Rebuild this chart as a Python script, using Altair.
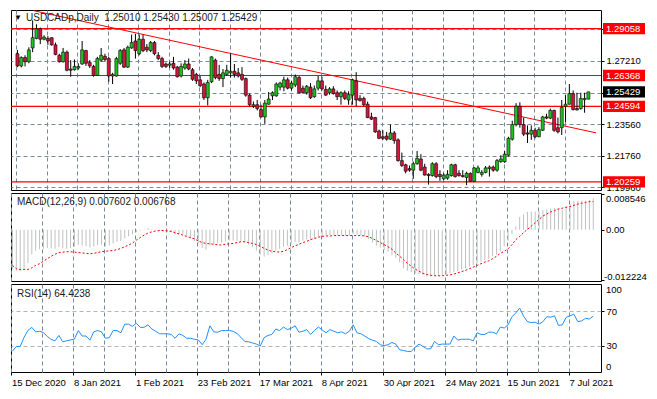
import altair as alt
import pandas as pd

# ---------------- data ----------------
dates = ["15 Dec 2020", "8 Jan 2021", "1 Feb 2021", "23 Feb 2021", "17 Mar 2021",
         "8 Apr 2021", "30 Apr 2021", "24 May 2021", "15 Jun 2021", "7 Jul 2021"]

open_ = [
    1.2762, 1.2692, 1.2740, 1.2716, 1.2795, 1.2850, 1.2905, 1.2845, 1.2850, 1.2854,
    1.2813, 1.2753, 1.2716, 1.2771, 1.2674, 1.2670, 1.2680, 1.2703, 1.2780, 1.2711,
    1.2689, 1.2637, 1.2725, 1.2747, 1.2734, 1.2634, 1.2634, 1.2707, 1.2784, 1.2685,
    1.2795, 1.2835, 1.2762, 1.2845, 1.2799, 1.2780, 1.2826, 1.2753, 1.2734, 1.2703,
    1.2696, 1.2707, 1.2685, 1.2634, 1.2680, 1.2703, 1.2670, 1.2643, 1.2612, 1.2588,
    1.2509, 1.2601, 1.2725, 1.2643, 1.2619, 1.2643, 1.2652, 1.2661, 1.2652, 1.2643,
    1.2619, 1.2524, 1.2461, 1.2469, 1.2441, 1.2399, 1.2472, 1.2520, 1.2520, 1.2570,
    1.2570, 1.2612, 1.2564, 1.2582, 1.2625, 1.2564, 1.2538, 1.2570, 1.2515, 1.2564,
    1.2606, 1.2557, 1.2538, 1.2560, 1.2538, 1.2515, 1.2538, 1.2496, 1.2524, 1.2606,
    1.2505, 1.2505, 1.2472, 1.2399, 1.2395, 1.2318, 1.2285, 1.2289, 1.2271, 1.2307,
    1.2267, 1.2148, 1.2124, 1.2102, 1.2093, 1.2130, 1.2157, 1.2111, 1.2069, 1.2062,
    1.2130, 1.2069, 1.2043, 1.2047, 1.2062, 1.2124, 1.2075, 1.2062, 1.2051, 1.2075,
    1.2029, 1.2080, 1.2069, 1.2080, 1.2102, 1.2111, 1.2093, 1.2142, 1.2142, 1.2179,
    1.2271, 1.2355, 1.2460, 1.2355, 1.2307, 1.2300, 1.2322, 1.2285, 1.2322, 1.2399,
    1.2392, 1.2436, 1.2337, 1.2337, 1.2460, 1.2472, 1.2533, 1.2447, 1.2447, 1.2498,
    1.25010]

high = [
    1.2784, 1.2747, 1.2753, 1.2799, 1.2954, 1.2931, 1.2912, 1.2868, 1.2863, 1.2857,
    1.2826, 1.2762, 1.2795, 1.2780, 1.2725, 1.2729, 1.2707, 1.2835, 1.2784, 1.2725,
    1.2698, 1.2744, 1.2795, 1.2762, 1.2744, 1.2652, 1.2744, 1.2789, 1.2795, 1.2808,
    1.2872, 1.2876, 1.2872, 1.2872, 1.2817, 1.2835, 1.2835, 1.2771, 1.2744, 1.2711,
    1.2716, 1.2744, 1.2692, 1.2707, 1.2725, 1.2734, 1.2680, 1.2652, 1.2634, 1.2597,
    1.2612, 1.2747, 1.2734, 1.2698, 1.2674, 1.2698, 1.2762, 1.2703, 1.2680, 1.2685,
    1.2625, 1.2533, 1.2487, 1.2496, 1.2469, 1.2496, 1.2542, 1.2546, 1.2597, 1.2601,
    1.2630, 1.2625, 1.2606, 1.2643, 1.2634, 1.2579, 1.2582, 1.2593, 1.2579, 1.2634,
    1.2630, 1.2579, 1.2570, 1.2575, 1.2551, 1.2546, 1.2551, 1.2546, 1.2619, 1.2656,
    1.2524, 1.2515, 1.2487, 1.2423, 1.2399, 1.2326, 1.2322, 1.2313, 1.2355, 1.2318,
    1.2276, 1.2194, 1.2130, 1.2120, 1.2142, 1.2203, 1.2185, 1.2130, 1.2075, 1.2139,
    1.2139, 1.2093, 1.2075, 1.2093, 1.2130, 1.2130, 1.2093, 1.2093, 1.2084, 1.2080,
    1.2111, 1.2120, 1.2093, 1.2117, 1.2120, 1.2120, 1.2157, 1.2179, 1.2203, 1.2285,
    1.2377, 1.2478, 1.2483, 1.2395, 1.2350, 1.2350, 1.2337, 1.2340, 1.2405, 1.2417,
    1.2447, 1.2441, 1.2395, 1.2496, 1.2524, 1.2588, 1.2551, 1.2538, 1.2538, 1.2538,
    1.25430]

low = [
    1.2685, 1.2683, 1.2689, 1.2707, 1.2771, 1.2845, 1.2817, 1.2839, 1.2813, 1.2808,
    1.2753, 1.2711, 1.2711, 1.2661, 1.2630, 1.2665, 1.2670, 1.2698, 1.2692, 1.2680,
    1.2630, 1.2634, 1.2716, 1.2716, 1.2601, 1.2588, 1.2630, 1.2698, 1.2680, 1.2680,
    1.2790, 1.2734, 1.2753, 1.2771, 1.2771, 1.2771, 1.2753, 1.2725, 1.2680, 1.2680,
    1.2680, 1.2670, 1.2625, 1.2625, 1.2670, 1.2667, 1.2606, 1.2588, 1.2570, 1.2496,
    1.2465, 1.2593, 1.2615, 1.2606, 1.2570, 1.2634, 1.2625, 1.2625, 1.2625, 1.2606,
    1.2515, 1.2460, 1.2450, 1.2436, 1.2395, 1.2359, 1.2469, 1.2496, 1.2515, 1.2551,
    1.2546, 1.2557, 1.2551, 1.2570, 1.2533, 1.2533, 1.2527, 1.2502, 1.2509, 1.2551,
    1.2551, 1.2520, 1.2527, 1.2527, 1.2496, 1.2469, 1.2496, 1.2469, 1.2469, 1.2460,
    1.2487, 1.2460, 1.2392, 1.2381, 1.2307, 1.2271, 1.2267, 1.2263, 1.2267, 1.2245,
    1.2142, 1.2111, 1.2075, 1.2084, 1.2043, 1.2124, 1.2087, 1.2062, 1.2010, 1.2056,
    1.2047, 1.2032, 1.2038, 1.2038, 1.2056, 1.2051, 1.2056, 1.2051, 1.2007, 1.2026,
    1.2025, 1.2075, 1.2056, 1.2075, 1.2056, 1.2084, 1.2084, 1.2135, 1.2135, 1.2172,
    1.2263, 1.2344, 1.2337, 1.2289, 1.2249, 1.2267, 1.2276, 1.2282, 1.2318, 1.2386,
    1.2386, 1.2313, 1.2304, 1.2295, 1.2368, 1.2469, 1.2436, 1.2436, 1.2441, 1.2423,
    1.25007]

close = [
    1.2692, 1.2740, 1.2716, 1.2784, 1.2854, 1.2905, 1.2845, 1.2857, 1.2835, 1.2813,
    1.2758, 1.2716, 1.2771, 1.2667, 1.2667, 1.2689, 1.2689, 1.2784, 1.2707, 1.2692,
    1.2637, 1.2734, 1.2753, 1.2729, 1.2634, 1.2643, 1.2734, 1.2780, 1.2685, 1.2799,
    1.2826, 1.2780, 1.2845, 1.2780, 1.2784, 1.2826, 1.2762, 1.2734, 1.2689, 1.2689,
    1.2703, 1.2680, 1.2630, 1.2689, 1.2703, 1.2674, 1.2615, 1.2606, 1.2579, 1.2509,
    1.2597, 1.2744, 1.2625, 1.2619, 1.2652, 1.2667, 1.2661, 1.2643, 1.2634, 1.2615,
    1.2524, 1.2469, 1.2469, 1.2447, 1.2399, 1.2478, 1.2502, 1.2538, 1.2588, 1.2593,
    1.2612, 1.2564, 1.2593, 1.2630, 1.2538, 1.2538, 1.2575, 1.2509, 1.2560, 1.2606,
    1.2560, 1.2524, 1.2560, 1.2533, 1.2515, 1.2538, 1.2505, 1.2527, 1.2612, 1.2496,
    1.2493, 1.2469, 1.2395, 1.2386, 1.2313, 1.2276, 1.2276, 1.2271, 1.2307, 1.2263,
    1.2148, 1.2120, 1.2087, 1.2093, 1.2130, 1.2161, 1.2093, 1.2065, 1.2062, 1.2130,
    1.2056, 1.2056, 1.2065, 1.2069, 1.2124, 1.2056, 1.2062, 1.2056, 1.2075, 1.2029,
    1.2106, 1.2106, 1.2080, 1.2106, 1.2111, 1.2093, 1.2148, 1.2157, 1.2185, 1.2276,
    1.2355, 1.2460, 1.2355, 1.2300, 1.2300, 1.2322, 1.2285, 1.2326, 1.2399, 1.2392,
    1.2436, 1.2322, 1.2313, 1.2454, 1.2472, 1.2533, 1.2441, 1.2439, 1.2505, 1.2505,
    1.25429]

macd = [
    -0.0095, -0.0099, -0.0100, -0.0096, -0.0080, -0.0060, -0.0051, -0.0047, -0.0046, -0.0044,
    -0.0045, -0.0046, -0.0042, -0.0045, -0.0046, -0.0044, -0.0041, -0.0037, -0.0038, -0.0040,
    -0.0043, -0.0040, -0.0037, -0.0036, -0.0040, -0.0038, -0.0033, -0.0029, -0.0027, -0.0021,
    -0.0016, -0.0011, -0.0006, -0.0002, 0.0001, 0.0004, 0.0002, -0.0001, -0.0003, -0.0004,
    -0.0004, -0.0006, -0.0011, -0.0011, -0.0011, -0.0015, -0.0021, -0.0027, -0.0033, -0.0044,
    -0.0048, -0.0038, -0.0035, -0.0033, -0.0031, -0.0028, -0.0026, -0.0026, -0.0027, -0.0028,
    -0.0031, -0.0036, -0.0042, -0.0050, -0.0060, -0.0065, -0.0061, -0.0057, -0.0050, -0.0046,
    -0.0041, -0.0039, -0.0033, -0.0030, -0.0030, -0.0026, -0.0024, -0.0024, -0.0021, -0.0017,
    -0.0015, -0.0014, -0.0013, -0.0013, -0.0014, -0.0013, -0.0014, -0.0014, -0.0011, -0.0012,
    -0.0014, -0.0017, -0.0023, -0.0031, -0.0038, -0.0043, -0.0049, -0.0053, -0.0062, -0.0068,
    -0.0079, -0.0093, -0.0099, -0.0102, -0.0106, -0.0107, -0.0109, -0.0113, -0.0113, -0.0111,
    -0.0111, -0.0110, -0.0108, -0.0105, -0.0102, -0.0100, -0.0096, -0.0093, -0.0089, -0.0086,
    -0.0081, -0.0077, -0.0074, -0.0070, -0.0063, -0.0060, -0.0052, -0.0040, -0.0027, -0.0010,
    0.0008, 0.0031, 0.0037, 0.0043, 0.0044, 0.0044, 0.0044, 0.0047, 0.0049, 0.0051,
    0.0052, 0.0052, 0.0049, 0.0057, 0.0062, 0.0070, 0.0070, 0.0070, 0.0070, 0.0072,
    0.007602]

signal = [
    -0.0086, -0.0094, -0.0096, -0.0096, -0.0096, -0.0092, -0.0086, -0.0082, -0.0076, -0.0070,
    -0.0064, -0.0059, -0.0055, -0.0054, -0.0053, -0.0053, -0.0054, -0.0055, -0.0056, -0.0057,
    -0.0058, -0.0057, -0.0055, -0.0053, -0.0052, -0.0051, -0.0050, -0.0048, -0.0045, -0.0041,
    -0.0037, -0.0032, -0.0025, -0.0019, -0.0013, -0.0008, -0.0005, -0.0003, -0.0002, -0.0002,
    -0.0003, -0.0004, -0.0007, -0.0010, -0.0013, -0.0016, -0.0019, -0.0022, -0.0027, -0.0031,
    -0.0033, -0.0034, -0.0035, -0.0036, -0.0037, -0.0035, -0.0034, -0.0033, -0.0031, -0.0029,
    -0.0029, -0.0031, -0.0033, -0.0036, -0.0040, -0.0045, -0.0049, -0.0052, -0.0053, -0.0054,
    -0.0052, -0.0048, -0.0043, -0.0039, -0.0035, -0.0031, -0.0028, -0.0024, -0.0021, -0.0018,
    -0.0016, -0.0015, -0.0015, -0.0014, -0.0014, -0.0014, -0.0014, -0.0014, -0.0014, -0.0014,
    -0.0014, -0.0015, -0.0017, -0.0021, -0.0026, -0.0031, -0.0036, -0.0041, -0.0047, -0.0056,
    -0.0064, -0.0072, -0.0081, -0.0088, -0.0095, -0.0100, -0.0105, -0.0108, -0.0110, -0.0111,
    -0.0111, -0.0111, -0.0110, -0.0109, -0.0107, -0.0104, -0.0101, -0.0098, -0.0094, -0.0090,
    -0.0086, -0.0082, -0.0078, -0.0075, -0.0070, -0.0064, -0.0057, -0.0052, -0.0046, -0.0036,
    -0.0024, -0.0016, -0.0007, 0.0001, 0.0009, 0.0017, 0.0025, 0.0033, 0.0038, 0.0043,
    0.0046, 0.0050, 0.0052, 0.0054, 0.0056, 0.0059, 0.0062, 0.0064, 0.0066, 0.0068,
    0.006768]

rsi = [
    24.0, 29.3, 29.5, 40.0, 48.0, 51.5, 46.3, 47.0, 45.5, 41.0,
    37.5, 36.0, 42.2, 34.8, 36.0, 37.0, 37.8, 47.8, 41.5, 41.5,
    36.7, 46.3, 47.8, 46.3, 38.9, 39.6, 47.8, 47.8, 45.2, 55.2,
    55.2, 52.6, 56.3, 51.5, 51.5, 54.4, 49.6, 47.0, 44.1, 44.1,
    44.1, 43.3, 38.9, 44.1, 42.2, 38.9, 38.9, 37.8, 37.0, 31.5,
    37.8, 53.3, 46.3, 45.9, 47.8, 47.8, 47.8, 47.0, 44.4, 40.0,
    35.2, 34.8, 33.5, 32.2, 30.0, 39.6, 42.2, 43.3, 49.6, 47.8,
    51.9, 48.9, 50.5, 53.3, 45.9, 47.0, 48.9, 43.3, 48.0, 51.9,
    48.5, 45.2, 48.9, 47.0, 45.2, 46.3, 44.1, 47.0, 54.4, 45.2,
    44.1, 41.5, 38.5, 36.7, 35.2, 31.5, 30.4, 31.5, 34.1, 32.2,
    25.6, 24.8, 23.7, 23.7, 28.5, 32.2, 29.6, 26.7, 26.7, 35.2,
    31.5, 32.2, 32.2, 32.2, 41.5, 36.7, 37.8, 37.8, 37.8, 35.9,
    45.2, 43.3, 43.3, 45.9, 45.9, 44.1, 51.9, 50.7, 54.4, 63.7,
    68.1, 73.7, 64.4, 58.1, 57.0, 57.4, 55.2, 58.1, 63.7, 63.3,
    64.8, 53.7, 54.4, 63.0, 64.8, 66.7, 58.1, 58.9, 61.9, 61.1,
    64.4238]

levels = [1.29058, 1.26368, 1.24594, 1.20259]          # horizontal red lines
price_ticks = [1.2903, 1.2721, 1.2539, 1.2356, 1.2176, 1.1996]
hidden_ticks = [1.2903, 1.2539]                       # covered by level labels
trend_i = [4.25, 152.0]                               # trend line anchors (bar index)
trend_p = [1.30093, 1.23075]
macd_ticks = [0.008546, 0.0, -0.012224]
rsi_levels = [70, 30]
rsi_ends = [100, 0]

# ---------------- layout / style ----------------
W = 590
HP, HM, HR = 180, 88, 88
FONT = "Liberation Sans"
GRID = "#778899"
GREEN = "#1ec31e"
CRED = "#d8143a"
LRED = "#ff0000"
BOX = "M-1,-0.27H1V0.27H-1Z"

n = len(close)
df = pd.DataFrame({"i": list(range(n)), "open": open_, "high": high, "low": low,
                   "close": close, "macd": macd, "signal": signal, "rsi": rsi})

xs = alt.Scale(domain=[-0.375, 152.0], nice=False, zero=False)
ys_p = alt.Scale(domain=[1.19791, 1.30131], nice=False, zero=False)
ys_m = alt.Scale(domain=[-0.01237, 0.00887], nice=False, zero=False)
ys_r = alt.Scale(domain=[0, 101.5], nice=False, zero=False)

x_grid = [-0.25 + 8 * k for k in range(19)]
js_dates = "[" + ",".join("'" + d + "'" for d in dates) + "]"
date_expr = f"(datum.value + 0.25) % 16 == 0 ? {js_dates}[(datum.value + 0.25) / 16] : ''"

x_axis_plain = alt.Axis(values=x_grid, grid=True, gridColor=GRID, gridDash=[4, 3],
                        labels=False, ticks=False, domain=False, title=None)
x_axis_dates = alt.Axis(values=x_grid, grid=True, gridColor=GRID, gridDash=[4, 3],
                        labelExpr=date_expr, labelAlign="left", labelBaseline="top",
                        labelPadding=2, labelOverlap=False, labelFlush=False,
                        labelFontSize=9.5,
                        ticks=True, tickSize=3, tickColor="black",
                        tickOpacity={"condition": {"test": "(datum.value + 0.25) % 16 == 0", "value": 1}, "value": 0},
                        domain=False, title=None)

hidden_js = "[" + ",".join(str(v) for v in hidden_ticks) + "]"
price_axis = alt.Axis(orient="right", values=price_ticks, grid=True, gridColor=GRID,
                      gridDash=[4, 3],
                      labelExpr=f"indexof({hidden_js}, datum.value) >= 0 ? '' : format(datum.value, '.5f')",
                      labelPadding=2, labelOverlap=False, labelFlush=False,
                      ticks=True, tickSize=3, tickColor="black", domain=False, title=None)
macd_axis = alt.Axis(orient="right", values=macd_ticks, grid=False, labels=False,
                     ticks=True, tickSize=3, tickColor="black", domain=False, title=None)
rsi_axis = alt.Axis(orient="right", values=rsi_levels, grid=True, gridColor="#b4b4b4",
                    gridDash=[4, 3], labelPadding=2, ticks=True, tickSize=3,
                    tickColor="black", domain=False, title=None)


def fixed_text(txt, x, y, size=10, color="#1a1a1a", align="left"):
    return alt.Chart(pd.DataFrame({"t": [txt]})).mark_text(
        align=align, baseline="middle", fontSize=size, color=color, font=FONT
    ).encode(x=alt.value(x), y=alt.value(y), text="t:N")


# ---------------- price panel ----------------
Xp = alt.X("i:Q", scale=xs, axis=x_axis_plain)
base = alt.Chart(df)
wick = base.mark_rule(color="black", strokeWidth=1).encode(
    x=Xp, y=alt.Y("low:Q", scale=ys_p, axis=price_axis), y2="high:Q")
body = base.mark_bar(size=3, stroke="black", strokeWidth=0.6).encode(
    x=Xp, y=alt.Y("open:Q", scale=ys_p, axis=price_axis), y2="close:Q",
    color=alt.condition("datum.close >= datum.open", alt.value(GREEN), alt.value(CRED)))

lev_df = pd.DataFrame({"level": levels})
hlines = alt.Chart(lev_df).mark_rule(color=LRED, strokeWidth=1.2).encode(
    y=alt.Y("level:Q", scale=ys_p, axis=price_axis))
trend = alt.Chart(pd.DataFrame({"i": trend_i, "p": trend_p})).mark_line(
    color=LRED, strokeWidth=1, clip=True).encode(
    x=Xp, y=alt.Y("p:Q", scale=ys_p, axis=price_axis))

red_box = alt.Chart(lev_df).mark_point(shape=BOX, size=42 * 42, filled=True, opacity=1,
                                       color=LRED, strokeWidth=0).encode(
    x=alt.value(W + 23), y=alt.Y("level:Q", scale=ys_p, axis=price_axis))
red_txt = alt.Chart(lev_df).mark_text(align="left", baseline="middle", color="white",
                                      fontSize=9.5, font=FONT).encode(
    x=alt.value(W + 5), y=alt.Y("level:Q", scale=ys_p, axis=price_axis),
    text=alt.Text("level:Q", format=".5f"))
cur_df = pd.DataFrame({"level": [close[-1]]})
cur_box = alt.Chart(cur_df).mark_point(shape=BOX, size=42 * 42, filled=True, opacity=1,
                                       color="black", strokeWidth=0).encode(
    x=alt.value(W + 23), y=alt.Y("level:Q", scale=ys_p, axis=price_axis))
cur_txt = alt.Chart(cur_df).mark_text(align="left", baseline="middle", color="white",
                                      fontSize=9.5, font=FONT).encode(
    x=alt.value(W + 5), y=alt.Y("level:Q", scale=ys_p, axis=price_axis),
    text=alt.Text("level:Q", format=".5f"))

ptitle = (f"USDCADp,Daily\u00a0 {open_[-1]:.5f} {high[-1]:.5f} "
          f"{low[-1]:.5f} {close[-1]:.5f}")
price = alt.layer(
    hlines, trend, wick, body, red_box, red_txt, cur_box, cur_txt,
    fixed_text("\u25bc", 3, 8, size=8, color="black"),
    fixed_text(ptitle, 15, 8),
).properties(width=W, height=HP)

# ---------------- MACD panel ----------------
hist = alt.Chart(df).mark_rule(color="#c0c0c0", strokeWidth=1).encode(
    x=Xp, y=alt.Y("macd:Q", scale=ys_m, axis=macd_axis), y2=alt.datum(0))
sig = alt.Chart(df).mark_line(color=LRED, strokeWidth=1, strokeDash=[2, 2]).encode(
    x=Xp, y=alt.Y("signal:Q", scale=ys_m, axis=macd_axis))
zero_lab = alt.Chart(pd.DataFrame({"v": [macd_ticks[1]]})).mark_text(
    align="left", baseline="middle", fontSize=9.5, font=FONT, color="black").encode(
    x=alt.value(W + 5), y=alt.Y("v:Q", scale=ys_m, axis=macd_axis),
    text=alt.Text("v:Q", format=".2f"))
mtitle = f"MACD(12,26,9) {macd[-1]:.6f} {signal[-1]:.6f}"
macd_chart = alt.layer(
    hist, sig, zero_lab,
    fixed_text(f"{macd_ticks[0]:.6f}", W + 5, 6, size=9.5, color="black"),
    fixed_text(f"{macd_ticks[2]:.6f}", W + 3, HM - 4, size=9.5, color="black"),
    fixed_text(mtitle, 6, 9),
).properties(width=W, height=HM)

# ---------------- RSI panel ----------------
Xr = alt.X("i:Q", scale=xs, axis=x_axis_dates)
rline = alt.Chart(df).mark_line(color="#1e90ff", strokeWidth=1).encode(
    x=Xr, y=alt.Y("rsi:Q", scale=ys_r, axis=rsi_axis))
rtitle = f"RSI(14) {rsi[-1]:.4f}"
rsi_chart = alt.layer(
    rline,
    fixed_text(str(rsi_ends[0]), W + 5, 6, size=9.5, color="black"),
    fixed_text(str(rsi_ends[1]), W + 5, HR - 5, size=9.5, color="black"),
    fixed_text(rtitle, 6, 10),
).properties(width=W, height=HR)

chart = (
    alt.vconcat(price, macd_chart, rsi_chart, spacing=3, bounds="flush")
    .resolve_scale(y="independent")
    .properties(padding={"left": 1, "top": 1, "right": 0, "bottom": 0}, background="white")
    .configure_view(stroke="black", strokeWidth=1)
    .configure_axis(labelFont=FONT, labelFontSize=9.5, labelColor="black")
    .configure_text(font=FONT)
)

chart.save("out.html", embed_options={"renderer": "svg", "actions": False})
